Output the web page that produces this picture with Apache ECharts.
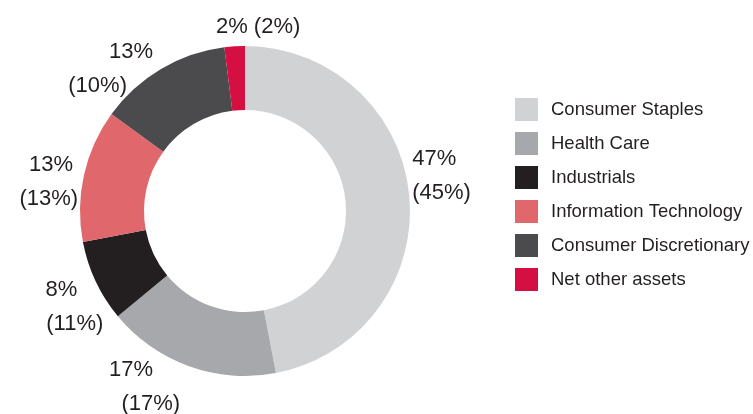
<!DOCTYPE html>
<html>
<head>
<meta charset="utf-8">
<script src="https://cdn.jsdelivr.net/npm/echarts@6/dist/echarts.min.js"></script>
<style>html,body{margin:0;padding:0;background:#fff}#c{width:753px;height:414px}</style>
</head>
<body>
<div id="c"></div>
<script>
var categories = ['Consumer Staples', 'Health Care', 'Industrials', 'Information Technology', 'Consumer Discretionary', 'Net other assets'];
var currentPct = [47, 17, 8, 13, 13, 2];
var priorPct = [45, 17, 11, 13, 10, 2];

// styling (kept separate from data)
var colors = ['#d1d2d4', '#a7a8ab', '#231f20', '#e0676b', '#4b4b4d', '#d50f41'];
var labelShift = [[-8, -19], [-2, 15], [18, 23], [5, 8], [0, 5], [71, -13]];
var linePad = [[0, 0], [27, 0], [26, 0], [5, 0], [0, 26], [0, 0]];

var FONT = 'Liberation Sans, Arial, Helvetica, sans-serif';
var TXT = '#231f20';

var chart = echarts.init(document.getElementById('c'), null, {renderer: 'canvas'});
var data = categories.map(function (name, i) {
  return {
    name: name,
    value: currentPct[i],
    prior: priorPct[i],
    itemStyle: { color: colors[i] },
    label: {
      rich: {
        a: { fontFamily: FONT, fontSize: 22, lineHeight: 34, color: TXT, padding: [0, linePad[i][0], 0, 0] },
        b: { fontFamily: FONT, fontSize: 22, lineHeight: 34, color: TXT, padding: [0, linePad[i][1], 0, 0] }
      }
    }
  };
});
chart.setOption({
  animation: false,
  backgroundColor: '#fff',
  legend: {
    orient: 'vertical',
    left: 515,
    top: 98,
    padding: 0,
    itemWidth: 23,
    itemHeight: 23,
    itemGap: 11,
    icon: 'rect',
    data: categories,
    textStyle: { fontFamily: FONT, fontSize: 18.5, color: TXT, padding: [0, 0, 0, 8] }
  },
  series: [{
    type: 'pie',
    center: [245, 211],
    radius: [101, 165],
    startAngle: 90,
    clockwise: true,
    avoidLabelOverlap: false,
    data: data,
    label: {
      show: true,
      position: 'outside',
      fontFamily: FONT,
      fontSize: 22,
      lineHeight: 34,
      color: TXT,
      formatter: function (p) {
        var pr = p.data.prior;
        return p.value < 5 ? '{a|' + p.value + '% (' + pr + '%)}' : '{a|' + p.value + '%}\n{b|(' + pr + '%)}';
      }
    },
    labelLine: { show: false, length: 6, length2: 0 },
    labelLayout: function (params) {
      var s = labelShift[params.dataIndex];
      return { dx: s[0], dy: s[1], hideOverlap: false };
    },
    emphasis: { disabled: true }
  }]
});
</script>
</body>
</html>
